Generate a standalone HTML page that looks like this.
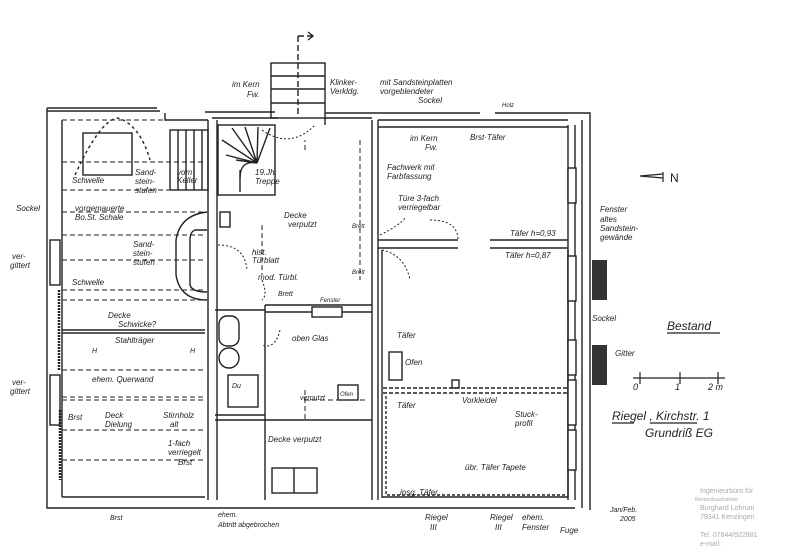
<!DOCTYPE html>
<html><head><meta charset="utf-8"><style>
html,body{margin:0;padding:0;background:#fff;}
svg{display:block;}
text{font-family:"Liberation Sans",sans-serif;font-style:italic;fill:#222;}
</style></head><body>
<svg width="800" height="560" viewBox="0 0 800 560" xmlns="http://www.w3.org/2000/svg">
<g stroke="#222" fill="none" stroke-width="1.4">
<path d="M47 108 H157 M47 108 V508 H575 M62 120 V497"/>
<path d="M47 111 H160 M165 113 V120 H208" />
<path d="M205 112 H275 M325 113 H480 M495 113 H590 V510 M582 120 V508"/>
<path d="M325 118 H372 M378 120 H568 M62 497 H205"/>
<path d="M212 118 H278 M325 118 V125"/>
<rect x="271" y="63" width="54" height="55"/>
<path d="M271 76 H325 M271 89 H325 M271 103 H325"/>
<path d="M298 36 V117 M298 36 H312" stroke-dasharray="6,3"/>
<path d="M308 32 L313 36 L308 40" />
<path d="M208 120 V500 M217 120 V500"/>
<path d="M372 120 V500 M378 120 V500"/>
<path d="M568 125 V500 M575 125 V500"/>
<path d="M378 127 H568"/>
<path d="M378 240 H458 M490 240 H568 M378 248 H458 M490 248 H568"/>
<path d="M382 250 V497 H568 V250"/>
<path d="M383 388 H568 M383 393 H568" stroke-dasharray="4,2"/>
<path d="M386 396 V495 H566" stroke-dasharray="3,2"/>
<rect x="389" y="352" width="13" height="28"/>
<rect x="452" y="380" width="7" height="8"/>
<g fill="#fff"><rect x="568" y="168" width="8" height="35"/><rect x="568" y="256" width="8" height="45"/><rect x="568" y="340" width="8" height="35"/><rect x="568" y="380" width="8" height="45"/><rect x="568" y="430" width="8" height="40"/></g>
<rect x="218" y="125" width="57" height="70"/>
<path d="M222 140 L257 163 M232 128 L257 163 M245 127 L257 163 M258 127 L257 163 M270 128 L257 163 M226 155 L257 163 M236 160 L257 163 M240 170 V192"/>
<path d="M240 178 Q240 160 257 163"/>
<rect x="170" y="130" width="38" height="60"/>
<path d="M178 130 V190 M186 130 V190 M194 130 V190 M202 130 V190"/>
<g stroke-dasharray="5,3" stroke-width="1">
<path d="M62 120 H205 M62 162 H205 M62 190 H205 M62 212 H205 M62 235 H205 M62 260 H205 M62 290 H205 M62 300 H205 M62 330 H205 M62 370 H205 M62 397 H205 M62 400 H205 M62 430 H205 M62 460 H205"/>
<path d="M305 150 V140 M360 140 V280 M262 225 V275 M304 400 H368 M305 390 V420"/>
</g>
<path d="M62 330 H205 M62 333 H205" stroke-width="1.6"/>
<rect x="83" y="133" width="49" height="42"/>
<path d="M75 175 Q100 120 118 118 Q140 125 150 160" stroke-dasharray="3,3"/>
<path d="M207 212 Q180 215 176 240 V275 Q180 300 207 300"/>
<path d="M207 230 H195 Q190 232 190 240 V285 Q192 292 207 292"/>
<g fill="#333" stroke="none"><rect x="592" y="260" width="15" height="40"/><rect x="592" y="345" width="15" height="40"/></g>
<rect x="50" y="240" width="10" height="45" fill="#fff"/>
<rect x="50" y="375" width="10" height="50" fill="#fff"/>
<path d="M59 290 V370 M60 410 V480" stroke-width="2.5" stroke-dasharray="2,1"/>
<path d="M265 305 H372 M265 312 H372 M265 305 V500"/>
<rect x="312" y="307" width="30" height="10" fill="#fff"/>
<path d="M215 310 H265 M215 415 H265 M215 420 H372"/>
<rect x="219" y="316" width="20" height="30" rx="8"/>
<circle cx="229" cy="358" r="10"/>
<rect x="228" y="375" width="30" height="32"/>
<rect x="338" y="385" width="20" height="15"/>
<rect x="272" y="468" width="45" height="25"/>
<path d="M294 468 V493"/>
<rect x="220" y="212" width="10" height="15"/>
<g stroke-dasharray="2,2" stroke-width="1">
<path d="M218 245 Q245 245 247 270 M262 280 Q268 295 262 300 M280 330 Q275 350 262 345 M380 235 Q400 225 405 218 M430 220 Q458 220 458 240 M382 250 Q405 255 410 280 M262 130 Q290 150 315 125"/>
</g>
</g>
<g font-size="8">
<text x="232" y="87">im Kern</text><text x="247" y="97">Fw.</text>
<text x="330" y="85">Klinker-</text><text x="330" y="94">Verkldg.</text>
<text x="380" y="85">mit Sandsteinplatten</text><text x="380" y="94">vorgeblendeter</text><text x="418" y="103">Sockel</text>
<text x="502" y="107" font-size="6">Holz</text>
<text x="410" y="141">im Kern</text><text x="425" y="150">Fw.</text>
<text x="470" y="140">Brst·Täfer</text>
<text x="387" y="170">Fachwerk mit</text><text x="387" y="179">Farbfassung</text>
<text x="398" y="201">Türe 3-fach</text><text x="398" y="210">verriegelbar</text>
<text x="510" y="236">Täfer h=0,93</text>
<text x="505" y="258">Täfer h=0,87</text>
<text x="600" y="212">Fenster</text><text x="600" y="222">altes</text><text x="600" y="231">Sandstein-</text><text x="600" y="240">gewände</text>
<text x="592" y="321">Sockel</text><text x="615" y="356">Gitter</text>
<text x="397" y="338">Täfer</text><text x="405" y="365">Ofen</text>
<text x="397" y="408">Täfer</text><text x="462" y="403">Vorkleidel</text>
<text x="515" y="417">Stuck-</text><text x="515" y="426">profil</text>
<text x="465" y="470">übr. Täfer Tapete</text>
<text x="400" y="495">insg. Täfer</text>
<text x="425" y="520">Riegel</text><text x="430" y="530">III</text>
<text x="490" y="520">Riegel</text><text x="495" y="530">III</text>
<text x="522" y="520">ehem.</text><text x="522" y="530">Fenster</text>
<text x="560" y="533">Fuge</text>
<text x="255" y="175">19.Jh.</text><text x="255" y="184">Treppe</text>
<text x="284" y="218">Decke</text><text x="288" y="227">verputzt</text>
<text x="352" y="228" font-size="6">Brett</text><text x="352" y="274" font-size="6">Brett</text>
<text x="252" y="255">hist.</text><text x="252" y="263">Türblatt</text>
<text x="258" y="280">mod. Türbl.</text>
<text x="278" y="296" font-size="7">Brett</text><text x="320" y="302" font-size="6">Fenster</text>
<text x="292" y="341">oben Glas</text>
<text x="300" y="400" font-size="7">verputzt</text><text x="340" y="396" font-size="6">Ofen</text>
<text x="268" y="442">Decke verputzt</text>
<text x="232" y="388" font-size="7">Du</text>
<text x="218" y="517" font-size="7">ehem.</text><text x="218" y="527" font-size="7">Abtritt abgebrochen</text>
<text x="72" y="183">Schwelle</text>
<text x="135" y="175">Sand-</text><text x="135" y="184">stein-</text><text x="135" y="193">stufen</text>
<text x="177" y="175">vom</text><text x="177" y="183">Keller</text>
<text x="75" y="211">vorgemauerte</text><text x="75" y="220">Bo.St. Schale</text>
<text x="133" y="247">Sand-</text><text x="133" y="256">stein-</text><text x="133" y="265">stufen</text>
<text x="72" y="285">Schwelle</text>
<text x="108" y="318">Decke</text><text x="118" y="327">Schwicke?</text>
<text x="115" y="343">Stahlträger</text>
<text x="92" y="353" font-size="7">H</text><text x="190" y="353" font-size="7">H</text>
<text x="92" y="382">ehem. Querwand</text>
<text x="68" y="420">Brst</text><text x="105" y="418">Deck</text><text x="105" y="427">Dielung</text>
<text x="163" y="418">Stirnholz</text><text x="170" y="427">alt</text>
<text x="168" y="446">1-fach</text><text x="168" y="455">verriegelt</text><text x="178" y="465">Brst</text>
<text x="16" y="211">Sockel</text>
<text x="12" y="259">ver-</text><text x="10" y="268">gittert</text>
<text x="12" y="385">ver-</text><text x="10" y="394">gittert</text>
<text x="110" y="520" font-size="7">Brst</text>
<text x="610" y="512" font-size="7">Jan/Feb.</text><text x="620" y="521" font-size="7">2005</text>
</g>
<g stroke="#222" fill="none" stroke-width="1.2">
<path d="M663 178 L640 176 L663 174 M663 172 V182"/>
<path d="M633 378 H725 M640 372 V384 M680 372 V384 M718 372 V384"/>
<path d="M667 333 H720 M612 423 H634 M650 423 H697"/>
</g>
<g font-size="12"><text x="670" y="182" style="font-style:normal">N</text>
<text x="667" y="330">Bestand</text>
<text x="612" y="420">Riegel , Kirchstr. 1</text>
<text x="645" y="437">Grundriß EG</text></g>
<g font-size="9"><text x="633" y="390">0</text><text x="675" y="390">1</text><text x="708" y="390">2 m</text></g>
<g font-size="7">
<text x="700" y="493" style="fill:#aaa;font-style:normal">Ingenieurbüro für</text>
<text x="695" y="501" font-size="5" style="fill:#aaa;font-style:normal">Bestandsaufnahme</text>
<text x="700" y="510" style="fill:#aaa;font-style:normal">Burghard Lohrum</text>
<text x="700" y="519" style="fill:#aaa;font-style:normal">79341 Kenzingen</text>
<text x="700" y="537" style="fill:#aaa;font-style:normal">Tel. 07644/922881</text>
<text x="700" y="546" style="fill:#aaa;font-style:normal">e-mail:</text>
</g>
</svg>
</body></html>
